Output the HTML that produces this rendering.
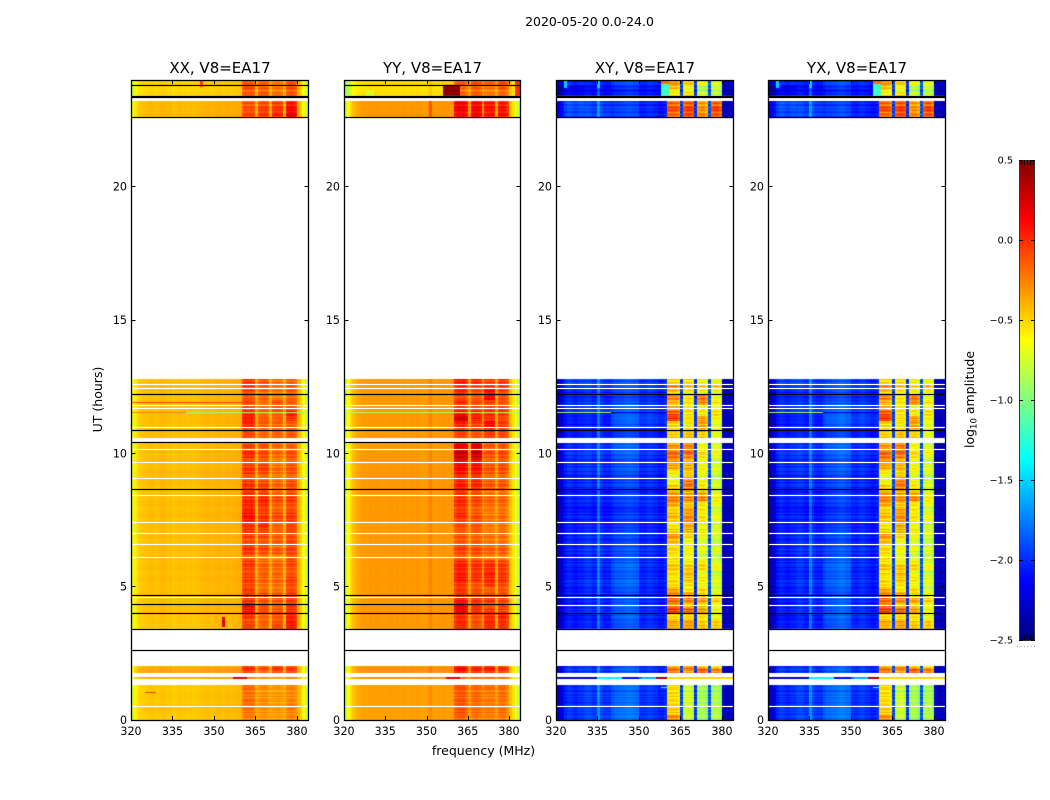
<!DOCTYPE html>
<html lang="en">
<head>
<meta charset="utf-8">
<title>2020-05-20 spectrogram</title>
<style>
html,body{margin:0;padding:0;background:#fff;}
#figure{position:relative;width:1050px;height:800px;overflow:hidden;background:#fff;font-family:"DejaVu Sans","Liberation Sans",sans-serif;}
#figure canvas{position:absolute;top:80px;height:640px;}
#overlay{position:absolute;left:0;top:0;}
text{font-family:"DejaVu Sans","Liberation Sans",sans-serif;fill:#000;}
</style>
</head>
<body>
<div id="figure">
<canvas id="heat0" width="177" height="640" style="left:131px;width:177px"></canvas>
<canvas id="heat1" width="176" height="640" style="left:344px;width:176px"></canvas>
<canvas id="heat2" width="177" height="640" style="left:556px;width:177px"></canvas>
<canvas id="heat3" width="177" height="640" style="left:768px;width:177px"></canvas>
<svg id="overlay" width="1050" height="800" xmlns="http://www.w3.org/2000/svg">
<text x="589.5" y="26" font-size="12.5" text-anchor="middle">2020-05-20 0.0-24.0</text>
<text x="483.5" y="755" font-size="12.5" text-anchor="middle">frequency (MHz)</text>
<text x="0" y="0" font-size="12.5" text-anchor="middle" transform="translate(102 399.5) rotate(-90)">UT (hours)</text>
<text x="0" y="0" font-size="12.5" text-anchor="middle" transform="translate(974 399.5) rotate(-90)">log<tspan font-size="8.5" dy="2.5">10</tspan><tspan dy="-2.5"> amplitude</tspan></text>
</svg>
</div>
<script>
/* ---------- axis data ---------- */
const panelTitles = ["XX, V8=EA17", "YY, V8=EA17", "XY, V8=EA17", "YX, V8=EA17"];
const freqTicks = [320, 335, 350, 365, 380];
const hourTicks = [0, 5, 10, 15, 20];
const colorTicks = [0.5, 0.0, -0.5, -1.0, -1.5, -2.0, -2.5];
const colorTickLabels = ["0.5", "0.0", "\u22120.5", "\u22121.0", "\u22121.5", "\u22122.0", "\u22122.5"];

/* ---------- channel bandpass (log10 amplitude, one value per 1 MHz channel from 320) ---------- */
const xxProfile = [-.72,-.58,-.5,-.47,-.46,-.45,-.44,-.43,-.44,-.45,-.43,-.42,-.43,-.44,-.43,-.46,-.45,-.43,-.45,-.44,-.45,-.44,-.45,-.45,-.44,-.43,-.42,-.41,-.42,-.43,-.41,-.40,-.41,-.42,-.40,-.41,-.41,-.40,-.39,-.39,-.22,-.17,-.19,-.17,-.22,-.38,-.25,-.22,-.21,-.25,-.38,-.27,-.25,-.24,-.27,-.40,-.19,-.17,-.17,-.22,-.40,-.48,-.62,-.80];
const yyProfile = [-.75,-.62,-.52,-.44,-.38,-.35,-.34,-.33,-.33,-.32,-.33,-.32,-.32,-.33,-.32,-.33,-.32,-.32,-.33,-.32,-.33,-.32,-.32,-.33,-.32,-.33,-.32,-.32,-.33,-.33,-.32,-.26,-.32,-.33,-.32,-.32,-.31,-.32,-.32,-.32,-.09,-.04,-.06,-.04,-.12,-.33,-.09,-.06,-.06,-.09,-.30,-.14,-.12,-.12,-.14,-.35,-.12,-.10,-.12,-.19,-.45,-.55,-.68,-.82];
const xyProfile = [-2.3,-2.3,-2.2,-2.05,-1.98,-2.0,-2.05,-2.05,-2.0,-2.0,-2.0,-1.98,-2.0,-2.05,-2.05,-1.75,-2.0,-2.05,-2.05,-2.05,-2.05,-2.0,-2.0,-1.98,-1.98,-1.95,-1.95,-1.95,-1.98,-1.98,-2.05,-2.05,-2.05,-2.0,-2.0,-2.05,-2.05,-2.1,-2.1,-2.05,-.6,-.6,-.6,-.6,-.7,-1.95,-.7,-.65,-.65,-.7,-2.0,-.75,-.7,-.7,-.8,-1.9,-.8,-.75,-.75,-.85,-2.3,-2.35,-2.35,-2.3];
const yxProfile = [-2.3,-2.3,-2.2,-2.05,-1.98,-2.0,-2.05,-2.05,-2.0,-2.0,-2.0,-1.98,-2.0,-2.05,-2.05,-1.75,-2.0,-2.05,-2.05,-2.05,-2.05,-2.0,-2.0,-1.98,-1.98,-1.95,-1.93,-1.93,-1.98,-1.98,-2.05,-2.05,-2.05,-2.0,-2.0,-2.05,-2.05,-2.1,-2.1,-2.05,-.62,-.6,-.6,-.62,-.7,-1.95,-.7,-.65,-.65,-.72,-2.0,-.75,-.7,-.7,-.8,-1.9,-.8,-.75,-.75,-.85,-2.3,-2.35,-2.35,-2.3];

/* ---------- time rows (UT hours) ---------- */
const rowStart = [0,.2,.4,.6,.8,1,1.2,1.52,1.75,1.9,3.4,3.6,3.8,4,4.2,4.4,4.6,4.8,5,5.2,5.4,5.6,5.8,6,6.2,6.4,6.6,6.8,7,7.2,7.4,7.6,7.8,8,8.2,8.4,8.6,8.8,9,9.2,9.4,9.6,9.8,10,10.2,10.56,10.8,11,11.2,11.4,11.6,11.8,12,12.2,12.4,12.6,22.56,22.8,23,23.4,23.6,23.8];
const rowEnd   = [.2,.4,.6,.8,1,1.2,1.3,1.6,1.9,2.02,3.6,3.8,4,4.2,4.4,4.6,4.8,5,5.2,5.4,5.6,5.8,6,6.2,6.4,6.6,6.8,7,7.2,7.4,7.6,7.8,8,8.2,8.4,8.6,8.8,9,9.2,9.4,9.6,9.8,10,10.2,10.38,10.8,11,11.2,11.4,11.6,11.8,12,12.2,12.4,12.6,12.78,22.8,23,23.2,23.6,23.8,24];

/* ---------- per-row offsets: low band, then four sub-bands ---------- */
const xxRows = [
[-.03,-.08,-.12,-.10,-.10],[-.02,-.05,-.10,-.08,-.10],[-.02,-.05,-.10,-.10,-.08],[-.03,-.02,-.08,-.10,-.10],[-.02,-.05,-.10,-.08,-.12],[-.03,-.02,-.10,-.10,-.10],[-.03,0,-.05,-.05,-.08],
[.05,-.10,-.10,-.10,-.10],[.08,.10,.05,.15,.10],[.05,.15,.10,.20,.10],
[-.02,.12,.05,.18,.22],[-.01,.10,.08,.15,.25],[-.02,.15,.05,.12,.20],[0,.25,.12,.12,.15],[0,.30,.12,.10,.18],[0,.15,.10,.12,.12],[.01,.12,.10,.10,.12],[0,.15,.05,.05,.10],[0,.08,.02,.05,.08],[.01,.10,.05,.05,.10],[0,.12,.08,.10,.08],[.01,.10,.05,.05,.05],[0,.12,.02,.05,.08],[.01,.08,.05,0,.10],[0,.12,.10,.10,.10],[.01,.14,.12,.05,.08],[0,.10,.10,.12,.12],[.01,.12,.14,.10,.08],[0,.15,.15,.08,.10],[.01,.18,.25,.10,.12],[0,.22,.18,.12,.10],[.01,.24,.15,.14,.12],[0,.22,.18,.10,.10],[.01,.18,.20,.10,.08],[0,.16,.22,.14,.12],[.01,.20,.18,.12,.10],[0,.14,.14,.06,.06],[.01,.12,.10,.05,.05],[0,.10,.08,.06,.04],[.01,.12,.12,.05,.05],[0,.10,.14,.02,.04],[.01,.12,.12,.05,.06],[0,.14,.10,.04,.05],[.01,.16,.12,.06,.05],[.01,.14,.14,.10,.05],
[.01,.08,.04,.08,.04],[.01,.12,.06,.10,.08],[0,.18,.06,.08,.02],[.01,.22,.08,.10,.14],[0,.20,.04,.10,.22],[.01,.08,.02,.12,.05],[.01,.10,.02,.14,.04],[0,.06,.06,.02,.02],[.01,.08,.02,.02,.02],[.01,.12,.08,.04,.03],[.01,.14,.10,.05,.02],
[.02,.10,.18,.26,.34],[.02,.08,.16,.22,.30],[.02,.06,.12,.18,.24],[-.06,.06,.10,.06,.06],[-.07,.08,.06,.04,.08],[-.05,.02,.05,.0,.04]
];
const yyRows = [
[-.02,-.12,-.18,-.15,-.14],[-.02,-.08,-.14,-.12,-.10],[-.02,-.10,-.16,-.14,-.12],[-.02,-.08,-.14,-.12,-.12],[-.02,-.10,-.12,-.14,-.10],[-.02,-.08,-.14,-.10,-.10],[-.02,-.04,-.10,-.06,-.06],
[.02,-.15,-.15,-.10,-.10],[.02,.10,.05,.10,.05],[.02,.12,.05,.14,.08],
[0,.05,-.05,.12,.10],[0,.08,-.02,.15,.12],[0,.05,-.05,.10,.14],[0,.20,.05,.08,.04],[0,.24,.08,.02,.06],[0,.12,.05,.10,.04],[0,.02,-.04,.02,.02],[0,.04,-.02,-.02,0],[0,.02,-.06,.08,.02],[0,.10,.04,.12,.08],[0,.12,.06,.18,.10],[0,.08,.04,.10,.06],[0,.04,0,.06,.02],[0,-.02,-.06,-.08,-.08],[0,-.04,-.04,-.06,-.06],[0,-.02,-.08,-.06,-.06],[0,-.06,-.06,-.08,-.08],[0,-.06,-.10,-.08,-.08],[0,-.08,-.06,-.12,-.10],[0,-.02,-.04,-.10,-.08],[0,-.02,-.06,-.12,-.10],[0,.04,-.06,-.14,-.10],[0,.02,-.08,-.08,-.08],[0,.04,-.04,-.08,-.08],[0,.02,-.02,-.06,-.06],[0,.06,.0,-.06,-.06],[0,.08,.04,-.04,-.04],[0,.06,.06,-.04,-.04],[0,.10,.08,-.02,-.02],[0,.12,.10,-.02,-.02],[0,.16,.14,-.02,0],[0,.26,.22,0,.02],[0,.30,.30,-.02,0],[0,.34,.36,.02,.02],[0,.26,.30,.02,.02],
[0,-.02,-.06,.06,.02],[0,.02,-.02,.16,.06],[0,.08,.0,.22,.06],[0,.30,.10,.10,.02],[0,.16,.08,.12,.08],[0,.0,-.04,.04,.02],[0,.05,-.02,.06,.0],[0,-.02,-.06,.26,.02],[0,.06,-.04,.20,.02],[0,.02,-.04,.06,.06],[0,.12,.08,.06,.08],
[.0,.16,.20,.18,.20],[.0,.22,.22,.20,.18],[.0,.20,.18,.18,.16],[-.20,-.10,-.06,-.10,-.06],[-.22,-.14,-.10,-.10,-.02],[-.18,-.12,-.06,-.06,.0]
];
/* cross-hand rows: four low-band decades, then four sub-bands */
const crossRows = [
[.02,.08,.18,.05,.30,-.15,-.20,-.10],[.02,.06,.18,.04,.10,-.15,-.20,-.12],[.02,.05,.15,.04,.08,-.10,-.18,-.10],[-.02,.03,.15,.03,.05,-.12,-.18,-.12],[0,.06,.15,.04,.05,-.12,-.20,-.12],[0,.05,.14,.05,.05,-.15,-.18,-.15],[.02,.09,.18,.08,.10,-.12,-.15,-.12],
[-.3,-.2,-.2,.2,.1,.1,.2,.1],[.03,.03,.10,.03,.35,.30,.55,.50],[0,.01,.08,.03,.25,.35,.30,.25],
[-.06,-.02,.09,.03,.20,.30,.25,.28],[-.02,.01,.12,.02,.25,.32,.24,.30],[-.08,-.03,.14,.03,.05,.10,.15,.05],[-.02,.02,.11,.03,.55,.48,.36,.12],[-.02,.03,.15,.04,.45,.30,.30,.15],[-.05,0,.10,.02,.40,.36,.34,.25],[-.03,0,.06,0,.30,.28,.18,.10],[-.05,.01,.11,.01,.25,.10,.22,.05],[-.02,.03,.14,.01,.05,.08,.02,.0],[-.05,0,.11,.01,.0,.16,.10,.02],[-.02,.01,.13,.02,.10,.25,.05,-.02],[-.05,.0,.14,0,.12,.18,.18,.10],[-.03,.02,.11,.02,.02,.02,.10,.02],[-.02,.03,.10,.04,.14,.10,.0,.0],[-.02,.02,.08,.03,.05,-.02,-.04,0],[-.04,.01,.07,.02,.02,.0,.02,-.02],[.0,.03,.05,.01,.20,.02,.0,-.02],[-.02,.01,.06,.0,.28,.12,.05,.0],[-.04,.0,.04,0,.10,.24,.10,.02],[-.02,.0,.03,.0,.05,.30,.08,.02],[-.05,-.05,.01,0,.10,.34,.12,.06],[-.03,-.05,.01,.01,.14,.30,.10,.05],[-.05,-.06,-.02,0,.12,.32,.16,.02],[-.04,-.04,.02,.02,.22,.18,.12,.08],[-.03,-.02,.03,.02,.32,.36,.44,.14],[-.04,-.03,.03,.01,.30,.32,.38,.12],[-.02,0,.04,0,.10,.38,.10,0],[-.02,.01,.05,.01,-.05,.40,.08,-.02],[-.02,.0,.07,.01,-.05,.30,.04,-.02],[0,.02,.08,.02,.0,.14,.04,0],[.0,.02,.09,.02,.22,.22,.06,.02],[.01,.03,.10,.03,.34,.30,.10,.02],[.01,.03,.11,.03,.38,.38,.14,.06],[.01,.04,.13,.04,.34,.48,.12,.10],[.02,.05,.15,.04,.30,.42,.10,.06],
[-.05,-.02,.03,-.02,.10,.20,.20,.05],[-.02,0,.01,0,.15,.20,.40,.14],[-.06,-.04,.10,.05,.08,.05,.34,.05],[-.04,-.02,.15,.09,.55,.12,.36,.14],[-.04,-.02,.12,.06,.50,.10,.12,.25],[-.02,0,.08,.03,.20,.05,.08,.05],[0,.02,.08,.04,.18,.08,.42,.18],[-.02,0,.05,.02,.35,.10,.50,.08],[-.03,.01,.06,.03,.12,.05,.08,.12],[.02,.04,.09,.05,.30,.18,.20,.30],[.08,.08,.10,.06,.10,.12,.10,.12],
[.10,.10,.05,.0,.40,.55,.42,.62],[.10,.09,.05,.0,.50,.60,.40,.70],[.12,.08,.03,.0,.42,.52,.38,.60],[-.12,-.08,-.02,-.05,.0,.10,-.05,-.05],[-.15,-.10,-.02,-.05,.15,.0,-.15,-.02],[-.02,-.05,.05,.0,.25,.15,.05,.0]
];

/* ---------- horizontal flagged lines (UT hours) ---------- */
const parallelWhite = [.49,4.58,6.10,6.59,7.00,7.41,8.43,9.06,9.66,10.15,10.98,11.67,11.79,12.45,12.59];
const crossWhite = [.49,4.31,4.58,6.10,6.59,7.00,7.41,8.43,9.06,9.66,10.15,10.98,11.67,11.79,12.45,12.59];
const parallelBlack = [2.59,3.41,3.98,4.35,4.67,8.63,10.39,10.84,12.19,22.58,23.33,23.40,23.81];
const crossBlack = [2.59,3.41,3.98,4.67,8.63,10.84,12.19,22.58,23.33,23.40];

/* ---------- localized RFI patches: panel, hour0, hour1, freq0, freq1, value ---------- */
const patchPanel = [0,0,0,0,0,0,0, 1,1,1,1,1,1,1, 2,2,2,2,2,2,2,2,2,2,2,2, 3,3,3,3,3,3,3,3,3,3,3,3];
const patchH0 = [11.88,11.52,11.52,1.52,3.5,23.75,1.0, 11.52,1.52,23.4,23.4,23.4,23.4,22.56, 11.52,11.52,1.52,1.52,1.52,1.52,1.52,23.85,23.4,23.7,23.7,1.2, 11.52,11.52,1.52,1.52,1.52,1.52,1.52,23.85,23.4,23.7,23.7,1.2];
const patchH1 = [11.92,11.56,11.56,1.6,3.85,24,1.04, 11.56,1.6,24,23.8,24,23.6,23.2, 11.56,11.56,1.6,1.6,1.6,1.6,1.6,24,23.85,24,24,1.25, 11.56,11.56,1.6,1.6,1.6,1.6,1.6,24,23.85,24,24,1.25];
const patchF0 = [320,340,320,357,353,345,325, 320,357,320,356,382,328,351, 320,340,320,335,351,356,360,358,358,323,335,358, 320,340,320,335,351,356,360,358,358,323,335,358];
const patchF1 = [360,384,340,362,354,346,329, 384,362,321,362,384,331,352, 340,360,335,344,356,360,384,361,361,324,336,361, 340,360,335,344,356,360,384,361,361,324,336,361];
const patchValue = [-.08,-.92,-.25,.22,.2,-.02,-.05, -.88,.2,-.92,.46,-.02,-.75,-.12, -.85,-2.25,-2.3,-1.4,-1.6,.42,-.5,-.2,-1.2,-1.5,-1.5,-1.15, -.85,-2.25,-2.3,-1.4,-1.6,.42,-.5,-.2,-1.2,-1.5,-1.5,-1.15];

/* ---------- sub-row striation ---------- */
const fineRipple = [.03,-.05,.02,.05,-.03,-.06,.04,0,-.02,.06,-.04,.01,.05];

/* ---------- sub-band layout (MHz) ---------- */
const subBandStart = [360,366,371,376];
const subBandEnd = [366,371,376,380];
const notchChannels = [365,370,375];

/* ---------- scales ---------- */
const panelLeft = [131,344,556,768];
const panelWidth = [177,176,177,177];
const plotTop = 80, plotBottom = 720;
const freqMin = 320, freqMax = 384, hourMin = 0, hourMax = 24;
const cbLeft = 1019, cbRight = 1034, cbTop = 160, cbBottom = 640, cMin = -2.5, cMax = 0.5;
function xScale(f,p){ return (f-freqMin)/(freqMax-freqMin)*panelWidth[p]; }
function yScale(h){ return plotBottom-(h-hourMin)/(hourMax-hourMin)*(plotBottom-plotTop); }
function cScale(v){ return cbBottom-(v-cMin)/(cMax-cMin)*(cbBottom-cbTop); }
function clamp01(x){ return Math.max(0,Math.min(1,x)); }
function jet(v){
  const t = clamp01((v-cMin)/(cMax-cMin));
  const r = clamp01(1.5-Math.abs(4*t-3)), g = clamp01(1.5-Math.abs(4*t-2)), b = clamp01(1.5-Math.abs(4*t-1));
  return "rgb("+Math.round(r*255)+","+Math.round(g*255)+","+Math.round(b*255)+")";
}

/* ---------- heatmaps ---------- */
const profiles = [xxProfile, yyProfile, xyProfile, yxProfile];
const rowTables = [xxRows, yyRows, crossRows, crossRows];
function offsetFor(panel, row, ch){
  const f = freqMin+ch, cols = rowTables[panel][row], cross = panel>1;
  if (notchChannels.indexOf(f)>=0) return 0;
  for (let b=0;b<subBandStart.length;b++){
    if (f>=subBandStart[b] && f<subBandEnd[b]) return cols[(cross?4:1)+b];
  }
  if (f>=subBandEnd[3]) return 0;
  return cross ? cols[Math.min(3,Math.floor((f-320)/10))] : cols[0];
}
function drawHeatmap(panel){
  const ctx = document.getElementById("heat"+panel).getContext("2d");
  const profile = profiles[panel], cross = panel>1;
  for (let r=0;r<rowStart.length;r++){
    const top = Math.round(yScale(rowEnd[r])-plotTop), bottom = Math.round(yScale(rowStart[r])-plotTop);
    for (let py=top;py<bottom;py++){
      const hour = hourMax-(py+.5)/(plotBottom-plotTop)*(hourMax-hourMin);
      const ripple = fineRipple[(py+r)%fineRipple.length];
      for (let ch=0;ch<profile.length;ch++){
        const f = freqMin+ch, inBand = f>=subBandStart[0]&&f<subBandEnd[3];
        let v = profile[ch]+offsetFor(panel,r,ch)+ripple*(inBand?(cross?2.2:1.4):(cross?1.2:.12));
        for (let k=0;k<patchPanel.length;k++){
          if (patchPanel[k]===panel && hour>=patchH0[k] && hour<patchH1[k] && f>=patchF0[k] && f<patchF1[k]) v = patchValue[k];
        }
        const x0 = Math.round(xScale(f,panel)), x1 = Math.round(xScale(f+1,panel));
        ctx.fillStyle = jet(v);
        ctx.fillRect(x0,py,x1-x0,1);
      }
    }
  }
}
[0,1,2,3].forEach(drawHeatmap);

/* ---------- SVG axes ---------- */
const svg = document.getElementById("overlay");
const NS = "http://www.w3.org/2000/svg";
function make(tag, props, content){
  const el = document.createElementNS(NS, tag);
  for (const k in props) el.setAttribute(k, props[k]);
  if (content!==undefined) el.textContent = content;
  svg.appendChild(el);
  return el;
}
panelTitles.forEach(function(title,p){
  const L = panelLeft[p], W = panelWidth[p];
  const whites = p>1 ? crossWhite : parallelWhite, blacks = p>1 ? crossBlack : parallelBlack;
  whites.forEach(function(h){
    const y = Math.floor(yScale(h))+.5;
    const line = make("line",{x1:L+.5,x2:L+W+.5,y1:y,y2:y,stroke:"#fff","stroke-width":1.2});
    
    
  });
  blacks.forEach(function(h){
    const y = Math.floor(yScale(h))+.5;
    const line = make("line",{x1:L+.5,x2:L+W+.5,y1:y,y2:y,stroke:"#000","stroke-width":1.3});
    
    
  });
  freqTicks.forEach(function(f){
    const x = Math.round(L+xScale(f,p))+.5;
    const bottomTick = make("line",{x1:x,x2:x,y1:plotBottom,y2:plotBottom-4,stroke:"#000"});
    
    
    const topTick = make("line",{x1:x,x2:x,y1:plotTop,y2:plotTop+4,stroke:"#000"});
    
    
    const label = make("text",{x:L+xScale(f,p),y:735,"font-size":11.1,"text-anchor":"middle"},String(f));
    
    
  });
  hourTicks.forEach(function(h){
    const y = Math.floor(yScale(h))+.5;
    const leftTick = make("line",{x1:L+.5,x2:L+4.5,y1:y,y2:y,stroke:"#000"});
    
    
    const rightTick = make("line",{x1:L+W-3.5,x2:L+W+.5,y1:y,y2:y,stroke:"#000"});
    
    
    const label = make("text",{x:L-4,y:yScale(h)+4,"font-size":11.1,"text-anchor":"end"},String(h));
    
    
  });
  const frame = make("rect",{x:L+.5,y:plotTop+.5,width:W,height:plotBottom-plotTop,fill:"none",stroke:"#000","stroke-width":1.3});
  
  
  const heading = make("text",{x:L+W/2+.5,y:73,"font-size":15,"text-anchor":"middle"},title);
  
  
});

/* ---------- colorbar ---------- */
for (let py=cbTop;py<cbBottom;py++){
  const v = cMax-(py+.5-cbTop)/(cbBottom-cbTop)*(cMax-cMin);
  const seg = make("rect",{x:cbLeft,y:py,width:cbRight-cbLeft,height:1,fill:jet(v)});
  
  
}
const cbFrame = make("rect",{x:cbLeft+.5,y:cbTop+.5,width:cbRight-cbLeft,height:cbBottom-cbTop,fill:"none",stroke:"#333"});


colorTicks.forEach(function(v,i){
  const y = Math.floor(cScale(v))+.5;
  const left = make("line",{x1:cbLeft,x2:cbLeft+4,y1:y,y2:y,stroke:"#000"});
  
  
  const right = make("line",{x1:cbRight-3,x2:cbRight+1,y1:y,y2:y,stroke:"#000"});
  
  
  const label = make("text",{x:1013,y:cScale(v)+3.5,"font-size":9.7,"text-anchor":"end"},colorTickLabels[i]);
  
  
});
[1021.5,1024.5,1027.5,1030.5,1033.5].forEach(function(x){
  const topMark = make("line",{x1:x,x2:x,y1:cbTop,y2:cbTop+5,stroke:"#000"});
  
  
  const bottomMark = make("line",{x1:x,x2:x,y1:cbBottom,y2:cbBottom-5,stroke:"#000"});
  
  
});
const dots = make("line",{x1:1017,x2:1035,y1:646.5,y2:646.5,stroke:"#999","stroke-dasharray":"1 2.4"});


</script>
</body>
</html>
